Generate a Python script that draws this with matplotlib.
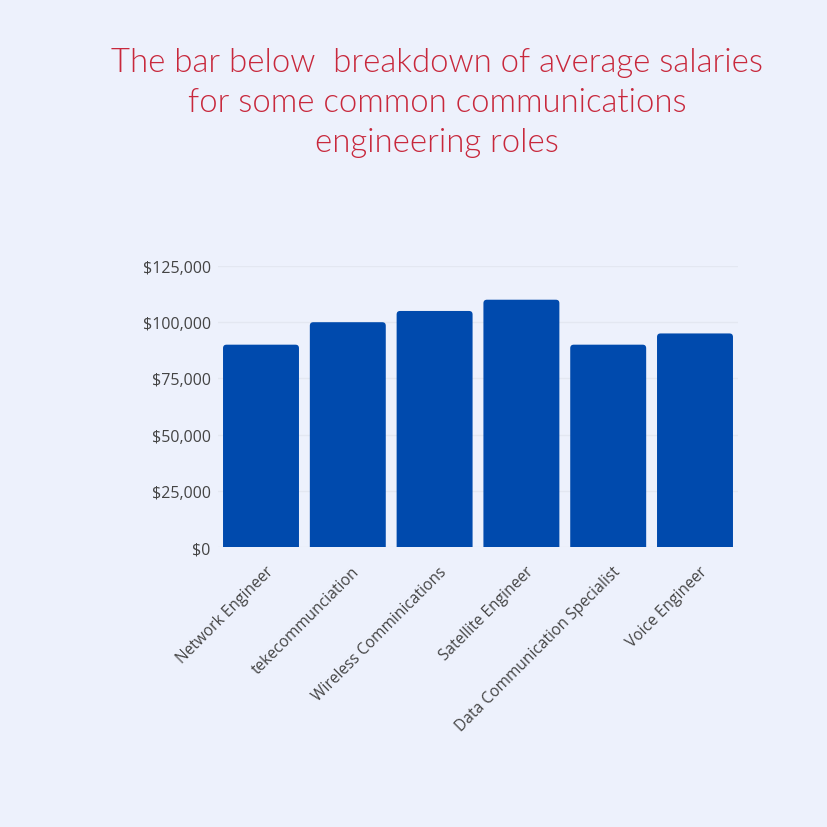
import matplotlib
matplotlib.use("Agg")
import matplotlib.pyplot as plt
from matplotlib.ticker import FuncFormatter
from matplotlib.patches import FancyBboxPatch

categories = ["Network Engineer", "tekecommunciation", "Wireless Comminications",
              "Satellite Engineer", "Data Communication Specialist", "Voice Engineer"]
salaries = [90000, 100000, 105000, 110000, 90000, 95000]
yticks = [0, 25000, 50000, 75000, 100000, 125000]

bg = "#edf1fc"
bar_color = "#004aad"
fig = plt.figure(figsize=(8.28, 8.28), dpi=100, facecolor=bg)
ax_w_px, ax_h_px = 520.8, 281
ax = fig.add_axes([217.6/828, 1 - 548/828, ax_w_px/828, ax_h_px/828], facecolor=bg)

x = list(range(len(categories)))
bars = ax.bar(x, salaries, width=0.875, color=bar_color, zorder=3)
ax.set_xlim(-0.5, len(categories) - 0.5)
ax.set_ylim(0, 125000)

# rounded top corners, derived from the bar geometry
xpx = ax_w_px / len(categories)          # px per x unit
ypx = ax_h_px / 125000                  # px per y unit
aspect = (1 / ypx) / (1 / xpx)
r = 3.5 / xpx
for b in bars:
    bx, by, bw, bh = b.get_x(), b.get_y(), b.get_width(), b.get_height()
    b.set_visible(False)
    ext = r * aspect * 2
    p = FancyBboxPatch((bx, by - ext), bw, bh + ext,
                       boxstyle=f"round,pad=0,rounding_size={r}",
                       mutation_aspect=aspect, facecolor=bar_color,
                       edgecolor="none", zorder=3, clip_on=True)
    ax.add_patch(p)

ax.set_yticks(yticks)
ax.yaxis.set_major_formatter(FuncFormatter(lambda v, p: f"${int(v):,}"))
ax.grid(axis="y", color="#e3e7f1", linewidth=1, zorder=0)
for s in ax.spines.values():
    s.set_visible(False)
ax.tick_params(length=0)
ax.tick_params(axis="y", pad=5)
for lab in ax.get_yticklabels():
    lab.set_fontfamily("Open Sans")
    lab.set_fontsize(11.5)
    lab.set_color("#444444")

# category labels, rotated 45 degrees below each bar
ax.set_xticks(x)
ax.set_xticklabels([])
for xi, name in zip(x, categories):
    ax.annotate(name, xy=(xi, 0), xycoords=("data", "axes fraction"),
                xytext=(4, -16), textcoords="offset pixels",
                rotation=45, ha="right", va="top", rotation_mode="anchor",
                fontfamily="Open Sans", fontsize=11.2, color="#444444",
                annotation_clip=False)

fig.text(437/828, 1 - 103/828,
         "The bar below  breakdown of average salaries\nfor some common communications\nengineering roles",
         ha="center", va="center", color="#c8283c", fontsize=23.7, family="Lato",
         fontweight=300, linespacing=1.4)

fig.savefig("out.png", dpi=100, facecolor=bg)
